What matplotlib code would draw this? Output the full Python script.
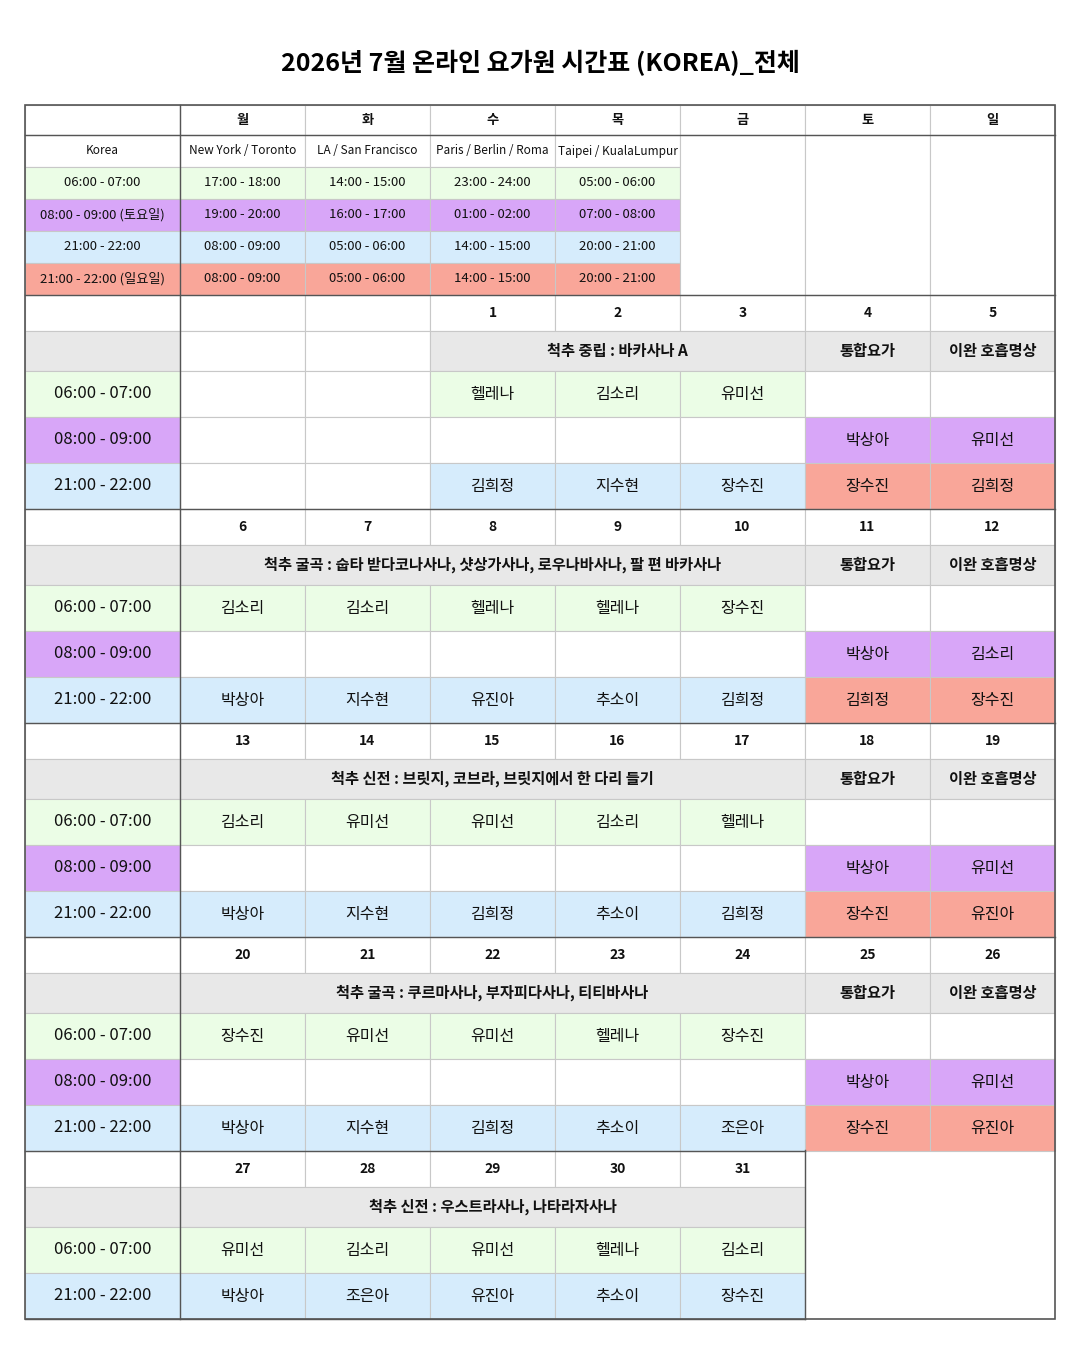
import matplotlib
matplotlib.use('Agg')
import matplotlib.pyplot as plt
from matplotlib.patches import Rectangle

plt.rcParams['font.family'] = ['Noto Sans CJK KR', 'DejaVu Sans']

TITLE = "2026년 7월 온라인 요가원 시간표 (KOREA)_전체"
DAYS = ['월', '화', '수', '목', '금', '토', '일']
CITIES = ['Korea', 'New York / Toronto', 'LA / San Francisco', 'Paris / Berlin / Roma', 'Taipei / KualaLumpur']
TZ_ROWS = [
    ['06:00 - 07:00', '17:00 - 18:00', '14:00 - 15:00', '23:00 - 24:00', '05:00 - 06:00'],
    ['08:00 - 09:00 (토요일)', '19:00 - 20:00', '16:00 - 17:00', '01:00 - 02:00', '07:00 - 08:00'],
    ['21:00 - 22:00', '08:00 - 09:00', '05:00 - 06:00', '14:00 - 15:00', '20:00 - 21:00'],
    ['21:00 - 22:00 (일요일)', '08:00 - 09:00', '05:00 - 06:00', '14:00 - 15:00', '20:00 - 21:00'],
]
SLOTS = ['06:00 - 07:00', '08:00 - 09:00', '21:00 - 22:00']

week_dates = [
    ['', '', '1', '2', '3', '4', '5'],
    ['6', '7', '8', '9', '10', '11', '12'],
    ['13', '14', '15', '16', '17', '18', '19'],
    ['20', '21', '22', '23', '24', '25', '26'],
    ['27', '28', '29', '30', '31'],
]
week_topics = [
    '척추 중립 : 바카사나 A',
    '척추 굴곡 : 숩타 받다코나사나, 샷상가사나, 로우나바사나, 팔 편 바카사나',
    '척추 신전 : 브릿지, 코브라, 브릿지에서 한 다리 들기',
    '척추 굴곡 : 쿠르마사나, 부자피다사나, 티티바사나',
    '척추 신전 : 우스트라사나, 나타라자사나',
]
WEEKEND_TOPICS = ['통합요가', '이완 호흡명상']
week_active = [[3, 4, 5], [1, 2, 3, 4, 5], [1, 2, 3, 4, 5], [1, 2, 3, 4, 5], [1, 2, 3, 4, 5]]
week_06 = [
    ['', '', '헬레나', '김소리', '유미선', '', ''],
    ['김소리', '김소리', '헬레나', '헬레나', '장수진', '', ''],
    ['김소리', '유미선', '유미선', '김소리', '헬레나', '', ''],
    ['장수진', '유미선', '유미선', '헬레나', '장수진', '', ''],
    ['유미선', '김소리', '유미선', '헬레나', '김소리'],
]
week_08 = [
    ['', '', '', '', '', '박상아', '유미선'],
    ['', '', '', '', '', '박상아', '김소리'],
    ['', '', '', '', '', '박상아', '유미선'],
    ['', '', '', '', '', '박상아', '유미선'],
    None,
]
week_21 = [
    ['', '', '김희정', '지수현', '장수진', '장수진', '김희정'],
    ['박상아', '지수현', '유진아', '추소이', '김희정', '김희정', '장수진'],
    ['박상아', '지수현', '김희정', '추소이', '김희정', '장수진', '유진아'],
    ['박상아', '지수현', '김희정', '추소이', '조은아', '장수진', '유진아'],
    ['박상아', '조은아', '유진아', '추소이', '장수진'],
]

GREEN, PURPLE, BLUE, SALMON, GRAY = '#ebfde6', '#d8a6f8', '#d6ecfc', '#f9a699', '#e8e8e8'
GRID, DARK = '#c8c8c8', '#555555'
XS = [25, 180, 305, 430, 555, 680, 805, 930, 1055]

fig = plt.figure(figsize=(10.8, 13.5), dpi=100)
ax = fig.add_axes([0, 0, 1, 1])
ax.set_xlim(0, 1080)
ax.set_ylim(1350, 0)
ax.axis('off')


def cell(c0, c1, y0, y1, text='', fill='white', size=11, bold=False):
    x0, x1 = XS[c0], XS[c1]
    ax.add_patch(Rectangle((x0, y0), x1 - x0, y1 - y0, facecolor=fill, edgecolor=GRID, lw=0.8))
    if text:
        ax.text((x0 + x1) / 2, (y0 + y1) / 2, text, ha='center', va='center',
                fontsize=size, fontweight='bold' if bold else 'normal', color='#111111')


ax.text(540, 63, TITLE, ha='center', va='center', fontsize=18, fontweight='bold')

# header
cell(0, 1, 105, 135)
for i, d in enumerate(DAYS):
    cell(i + 1, i + 2, 105, 135, d, size=9.5, bold=True)

# timezone block
tz_fill = [GREEN, PURPLE, BLUE, SALMON]
for i, c in enumerate(CITIES):
    cell(i, i + 1, 135, 167, c, size=8.5)
for r, row in enumerate(TZ_ROWS):
    y0 = 167 + r * 32
    for i, t in enumerate(row):
        cell(i, i + 1, y0, y0 + 32, t, fill=tz_fill[r], size=9.5)
cell(5, 6, 135, 295)
cell(6, 7, 135, 295)
cell(7, 8, 135, 295)

y = 295
seps = [295]
for w in range(5):
    ncol = len(week_dates[w])
    act = week_active[w]
    # date row
    cell(0, 1, y, y + 36)
    for i in range(ncol):
        cell(i + 1, i + 2, y, y + 36, week_dates[w][i], size=10, bold=True)
    y += 36
    # topic row
    cell(0, 1, y, y + 40, fill=GRAY)
    for i in range(1, 6):
        if i not in act:
            cell(i, i + 1, y, y + 40)
    cell(act[0], act[-1] + 1, y, y + 40, week_topics[w], fill=GRAY, size=11, bold=True)
    if ncol == 7:
        cell(6, 7, y, y + 40, WEEKEND_TOPICS[0], fill=GRAY, size=11, bold=True)
        cell(7, 8, y, y + 40, WEEKEND_TOPICS[1], fill=GRAY, size=11, bold=True)
    y += 40
    rows = [(SLOTS[0], week_06[w], GREEN, GREEN, 'white'),
            (SLOTS[1], week_08[w], PURPLE, 'white', PURPLE),
            (SLOTS[2], week_21[w], BLUE, BLUE, SALMON)]
    for label, names, lab_fill, wd_fill, we_fill in rows:
        if names is None:
            continue
        cell(0, 1, y, y + 46, label, fill=lab_fill, size=12)
        for i, n in enumerate(names):
            col = i + 1
            if col >= 6:
                f = we_fill
            else:
                f = wd_fill if col in act else 'white'
            cell(col, col + 1, y, y + 46, n, fill=f, size=11.5)
        y += 46
    seps.append(y)

# stronger lines
for s in seps:
    ax.plot([XS[0], XS[8] if s <= 1150 else XS[6]], [s, s], color=DARK, lw=1)
ax.plot([XS[0], XS[8]], [135, 135], color=DARK, lw=1)
ax.plot([XS[1], XS[1]], [105, y], color=DARK, lw=1)
ax.plot([XS[6], XS[6]], [1150, y], color=DARK, lw=1)
ax.add_patch(Rectangle((XS[0], 105), XS[8] - XS[0], y - 105, facecolor='none', edgecolor=DARK, lw=1.2))

fig.savefig('out.png', dpi=100, facecolor='white')
